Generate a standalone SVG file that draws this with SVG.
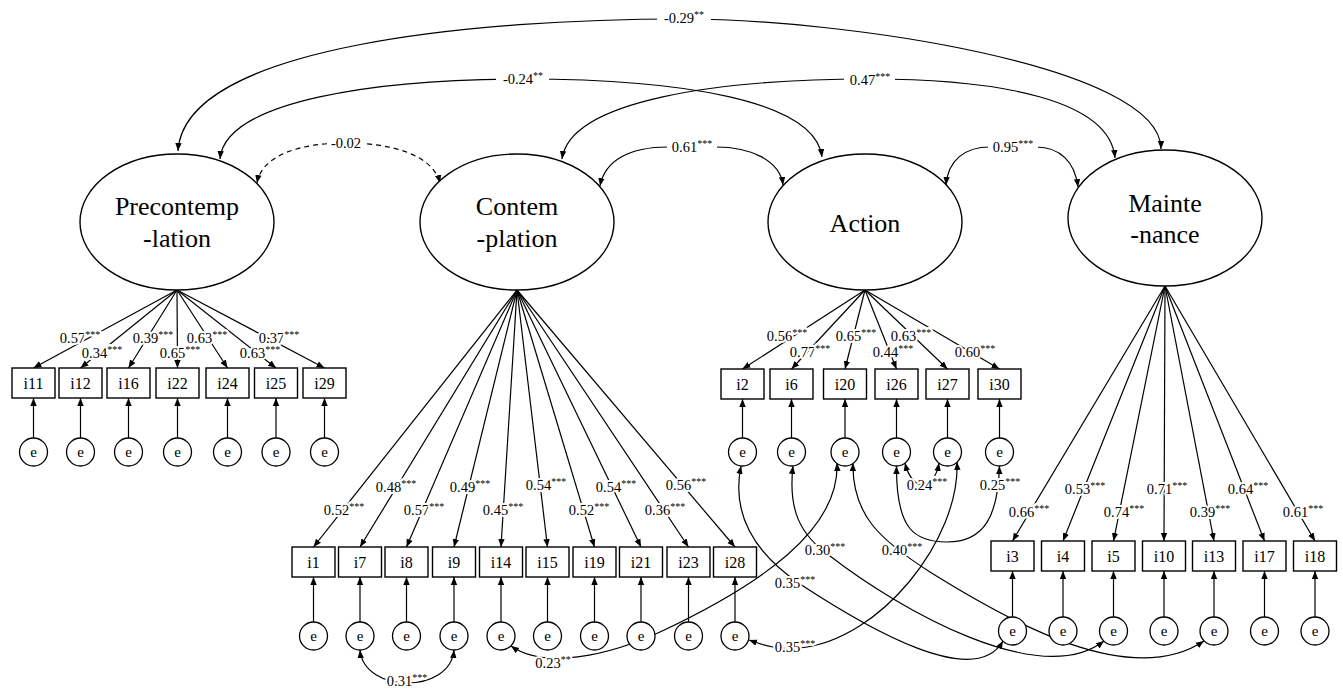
<svg xmlns="http://www.w3.org/2000/svg" width="1343" height="689" viewBox="0 0 1343 689">
<style>
.lat{fill:#fff;stroke:#000;stroke-width:1.4}
.box{fill:#fff;stroke:#000;stroke-width:1.4}
.err{fill:#fff;stroke:#000;stroke-width:1.3}
.ln{fill:none;stroke:#000;stroke-width:1.2;marker-end:url(#ah)}
.cov{fill:none;stroke:#000;stroke-width:1.2;marker-start:url(#ah);marker-end:url(#ah)}
.dash{stroke-dasharray:5 4}
.lt{font-family:"Liberation Serif","Times New Roman",serif;font-size:26px;text-anchor:middle;fill:#000}
.bt{font-family:"Liberation Serif","Times New Roman",serif;font-size:16px;text-anchor:middle;fill:#000}
.et{font-family:"Liberation Serif","Times New Roman",serif;font-size:15px;text-anchor:middle;fill:#000}
.lb{font-family:"Liberation Serif","Times New Roman",serif;font-size:14.5px;text-anchor:middle;fill:#000;stroke:#fff;stroke-width:4;stroke-linejoin:round;paint-order:stroke}
.tl{stroke:none}
.bg{fill:#fff;stroke:none}
.s{font-size:10px}
</style>
<defs>
<marker id="ah" viewBox="0 0 10 10" refX="10" refY="5" markerWidth="8" markerHeight="8" markerUnits="userSpaceOnUse" orient="auto-start-reverse">
<path d="M0,1 L10,5 L0,9 z" fill="#000" stroke="none"/>
</marker>
</defs>

<g id="connectors">
<path class="cov" d="M178,151 C184,45 480,19 683,19 C840,19 1161,65 1161,149"/>
<path class="cov" d="M220,159 C225,100 380,79 522,79 C680,79 815,100 822,157"/>
<path class="cov" d="M562,159 C570,100 720,79 870,79 C1000,79 1110,100 1115,158"/>
<path class="cov" d="M600,186 C605,160 630,147 668,147 L716,147 C750,147 780,160 783,185"/>
<path class="cov" d="M946,185 C948,160 965,147 990,147 L1036,147 C1060,147 1075,162 1078,187"/>
<path class="cov dash" d="M257,183 C262,155 300,143 346,143 C392,143 433,155 440,183"/>
<path class="ln" d="M177,290 L33.5,368"/>
<path class="ln" d="M177,290 L80.5,368"/>
<path class="ln" d="M177,290 L128.5,368"/>
<path class="ln" d="M177,290 L177.5,368"/>
<path class="ln" d="M177,290 L227.5,368"/>
<path class="ln" d="M177,290 L276,368"/>
<path class="ln" d="M177,290 L324.5,368"/>
<path class="ln" d="M517,290 L313.5,547"/>
<path class="ln" d="M517,290 L360,547"/>
<path class="ln" d="M517,290 L406.5,547"/>
<path class="ln" d="M517,290 L454,547"/>
<path class="ln" d="M517,290 L501,547"/>
<path class="ln" d="M517,290 L547.5,547"/>
<path class="ln" d="M517,290 L594.5,547"/>
<path class="ln" d="M517,290 L641,547"/>
<path class="ln" d="M517,290 L688.5,547"/>
<path class="ln" d="M517,290 L735,547"/>
<path class="ln" d="M865,290 L742.5,369"/>
<path class="ln" d="M865,290 L791.5,369"/>
<path class="ln" d="M865,290 L845,369"/>
<path class="ln" d="M865,290 L896.5,369"/>
<path class="ln" d="M865,290 L947.5,369"/>
<path class="ln" d="M865,290 L999.5,369"/>
<path class="ln" d="M1165,286 L1012.5,541"/>
<path class="ln" d="M1165,286 L1063,541"/>
<path class="ln" d="M1165,286 L1113.5,541"/>
<path class="ln" d="M1165,286 L1164,541"/>
<path class="ln" d="M1165,286 L1214,541"/>
<path class="ln" d="M1165,286 L1264.5,541"/>
<path class="ln" d="M1165,286 L1315,541"/>
<path class="ln" d="M33.5,438 L33.5,398"/>
<path class="ln" d="M80.5,438 L80.5,398"/>
<path class="ln" d="M128.5,438 L128.5,398"/>
<path class="ln" d="M177.5,438 L177.5,398"/>
<path class="ln" d="M227.5,438 L227.5,398"/>
<path class="ln" d="M276,438 L276,398"/>
<path class="ln" d="M324.5,438 L324.5,398"/>
<path class="ln" d="M742.5,438 L742.5,399"/>
<path class="ln" d="M791.5,438 L791.5,399"/>
<path class="ln" d="M845,438 L845,399"/>
<path class="ln" d="M896.5,438 L896.5,399"/>
<path class="ln" d="M947.5,438 L947.5,399"/>
<path class="ln" d="M999.5,438 L999.5,399"/>
<path class="ln" d="M313.5,622 L313.5,577"/>
<path class="ln" d="M360,622 L360,577"/>
<path class="ln" d="M406.5,622 L406.5,577"/>
<path class="ln" d="M454,622 L454,577"/>
<path class="ln" d="M501,622 L501,577"/>
<path class="ln" d="M547.5,622 L547.5,577"/>
<path class="ln" d="M594.5,622 L594.5,577"/>
<path class="ln" d="M641,622 L641,577"/>
<path class="ln" d="M688.5,622 L688.5,577"/>
<path class="ln" d="M735,622 L735,577"/>
<path class="ln" d="M1012.5,617 L1012.5,571"/>
<path class="ln" d="M1063,617 L1063,571"/>
<path class="ln" d="M1113.5,617 L1113.5,571"/>
<path class="ln" d="M1164,617 L1164,571"/>
<path class="ln" d="M1214,617 L1214,571"/>
<path class="ln" d="M1264.5,617 L1264.5,571"/>
<path class="ln" d="M1315,617 L1315,571"/>
<path class="cov" d="M360,650 C362,672 385,683 407,683 C430,683 452,672 454,650"/>
<path class="cov" d="M511,646 C545,670 610,655 660,632 C760,585 840,530 837,463"/>
<path class="cov" d="M749,640 C765,646 780,650 800,648 C880,640 960,540 957,462"/>
<path class="cov" d="M741,466 C732,510 750,550 800,584 C870,630 975,690 1003,641"/>
<path class="cov" d="M793,466 C788,510 800,535 830,556 C900,610 1040,690 1104,641"/>
<path class="cov" d="M853,463 C852,515 880,540 930,572 C1010,622 1130,690 1204,641"/>
<path class="cov" d="M905,463 C912,492 934,492 939,463"/>
<path class="cov" d="M896.5,466 C896,530 915,542 947,542 C985,542 998,515 999.5,466"/>
</g>

<g id="Precontemplation"><ellipse class="lat" cx="177" cy="222" rx="97" ry="68"/><text class="lt" x="177" y="215">Precontemp</text><text class="lt" x="177" y="247">-lation</text></g>
<g id="Contemplation"><ellipse class="lat" cx="517" cy="222" rx="97" ry="68"/><text class="lt" x="517" y="215">Contem</text><text class="lt" x="517" y="247">-plation</text></g>
<g id="Action"><ellipse class="lat" cx="865" cy="222" rx="97" ry="68"/><text class="lt" x="865" y="232">Action</text></g>
<g id="Maintenance"><ellipse class="lat" cx="1165" cy="218" rx="97" ry="68"/><text class="lt" x="1165" y="212">Mainte</text><text class="lt" x="1165" y="243">-nance</text></g>

<g id="i11"><rect class="box" x="12" y="368" width="43" height="30"/><text class="bt" x="33.5" y="389">i11</text></g>
<g id="i12"><rect class="box" x="59" y="368" width="43" height="30"/><text class="bt" x="80.5" y="389">i12</text></g>
<g id="i16"><rect class="box" x="107" y="368" width="43" height="30"/><text class="bt" x="128.5" y="389">i16</text></g>
<g id="i22"><rect class="box" x="156" y="368" width="43" height="30"/><text class="bt" x="177.5" y="389">i22</text></g>
<g id="i24"><rect class="box" x="206" y="368" width="43" height="30"/><text class="bt" x="227.5" y="389">i24</text></g>
<g id="i25"><rect class="box" x="254.5" y="368" width="43" height="30"/><text class="bt" x="276" y="389">i25</text></g>
<g id="i29"><rect class="box" x="303" y="368" width="43" height="30"/><text class="bt" x="324.5" y="389">i29</text></g>

<g id="i2"><rect class="box" x="721" y="369" width="43" height="30"/><text class="bt" x="742.5" y="390">i2</text></g>
<g id="i6"><rect class="box" x="770" y="369" width="43" height="30"/><text class="bt" x="791.5" y="390">i6</text></g>
<g id="i20"><rect class="box" x="823.5" y="369" width="43" height="30"/><text class="bt" x="845" y="390">i20</text></g>
<g id="i26"><rect class="box" x="875" y="369" width="43" height="30"/><text class="bt" x="896.5" y="390">i26</text></g>
<g id="i27"><rect class="box" x="926" y="369" width="43" height="30"/><text class="bt" x="947.5" y="390">i27</text></g>
<g id="i30"><rect class="box" x="978" y="369" width="43" height="30"/><text class="bt" x="999.5" y="390">i30</text></g>

<g id="i1"><rect class="box" x="292" y="547" width="43" height="30"/><text class="bt" x="313.5" y="568">i1</text></g>
<g id="i7"><rect class="box" x="338.5" y="547" width="43" height="30"/><text class="bt" x="360" y="568">i7</text></g>
<g id="i8"><rect class="box" x="385" y="547" width="43" height="30"/><text class="bt" x="406.5" y="568">i8</text></g>
<g id="i9"><rect class="box" x="432.5" y="547" width="43" height="30"/><text class="bt" x="454" y="568">i9</text></g>
<g id="i14"><rect class="box" x="479.5" y="547" width="43" height="30"/><text class="bt" x="501" y="568">i14</text></g>
<g id="i15"><rect class="box" x="526" y="547" width="43" height="30"/><text class="bt" x="547.5" y="568">i15</text></g>
<g id="i19"><rect class="box" x="573" y="547" width="43" height="30"/><text class="bt" x="594.5" y="568">i19</text></g>
<g id="i21"><rect class="box" x="619.5" y="547" width="43" height="30"/><text class="bt" x="641" y="568">i21</text></g>
<g id="i23"><rect class="box" x="667" y="547" width="43" height="30"/><text class="bt" x="688.5" y="568">i23</text></g>
<g id="i28"><rect class="box" x="713.5" y="547" width="43" height="30"/><text class="bt" x="735" y="568">i28</text></g>

<g id="i3"><rect class="box" x="991" y="541" width="43" height="30"/><text class="bt" x="1012.5" y="562">i3</text></g>
<g id="i4"><rect class="box" x="1041.5" y="541" width="43" height="30"/><text class="bt" x="1063" y="562">i4</text></g>
<g id="i5"><rect class="box" x="1092" y="541" width="43" height="30"/><text class="bt" x="1113.5" y="562">i5</text></g>
<g id="i10"><rect class="box" x="1142.5" y="541" width="43" height="30"/><text class="bt" x="1164" y="562">i10</text></g>
<g id="i13"><rect class="box" x="1192.5" y="541" width="43" height="30"/><text class="bt" x="1214" y="562">i13</text></g>
<g id="i17"><rect class="box" x="1243" y="541" width="43" height="30"/><text class="bt" x="1264.5" y="562">i17</text></g>
<g id="i18"><rect class="box" x="1293.5" y="541" width="43" height="30"/><text class="bt" x="1315" y="562">i18</text></g>

<g id="e-i11"><circle class="err" cx="33.5" cy="452" r="14"/><text class="et" x="33.5" y="457">e</text></g>
<g id="e-i12"><circle class="err" cx="80.5" cy="452" r="14"/><text class="et" x="80.5" y="457">e</text></g>
<g id="e-i16"><circle class="err" cx="128.5" cy="452" r="14"/><text class="et" x="128.5" y="457">e</text></g>
<g id="e-i22"><circle class="err" cx="177.5" cy="452" r="14"/><text class="et" x="177.5" y="457">e</text></g>
<g id="e-i24"><circle class="err" cx="227.5" cy="452" r="14"/><text class="et" x="227.5" y="457">e</text></g>
<g id="e-i25"><circle class="err" cx="276" cy="452" r="14"/><text class="et" x="276" y="457">e</text></g>
<g id="e-i29"><circle class="err" cx="324.5" cy="452" r="14"/><text class="et" x="324.5" y="457">e</text></g>

<g id="e-i2"><circle class="err" cx="742.5" cy="452" r="14"/><text class="et" x="742.5" y="457">e</text></g>
<g id="e-i6"><circle class="err" cx="791.5" cy="452" r="14"/><text class="et" x="791.5" y="457">e</text></g>
<g id="e-i20"><circle class="err" cx="845" cy="452" r="14"/><text class="et" x="845" y="457">e</text></g>
<g id="e-i26"><circle class="err" cx="896.5" cy="452" r="14"/><text class="et" x="896.5" y="457">e</text></g>
<g id="e-i27"><circle class="err" cx="947.5" cy="452" r="14"/><text class="et" x="947.5" y="457">e</text></g>
<g id="e-i30"><circle class="err" cx="999.5" cy="452" r="14"/><text class="et" x="999.5" y="457">e</text></g>

<g id="e-i1"><circle class="err" cx="313.5" cy="636" r="14"/><text class="et" x="313.5" y="641">e</text></g>
<g id="e-i7"><circle class="err" cx="360" cy="636" r="14"/><text class="et" x="360" y="641">e</text></g>
<g id="e-i8"><circle class="err" cx="406.5" cy="636" r="14"/><text class="et" x="406.5" y="641">e</text></g>
<g id="e-i9"><circle class="err" cx="454" cy="636" r="14"/><text class="et" x="454" y="641">e</text></g>
<g id="e-i14"><circle class="err" cx="501" cy="636" r="14"/><text class="et" x="501" y="641">e</text></g>
<g id="e-i15"><circle class="err" cx="547.5" cy="636" r="14"/><text class="et" x="547.5" y="641">e</text></g>
<g id="e-i19"><circle class="err" cx="594.5" cy="636" r="14"/><text class="et" x="594.5" y="641">e</text></g>
<g id="e-i21"><circle class="err" cx="641" cy="636" r="14"/><text class="et" x="641" y="641">e</text></g>
<g id="e-i23"><circle class="err" cx="688.5" cy="636" r="14"/><text class="et" x="688.5" y="641">e</text></g>
<g id="e-i28"><circle class="err" cx="735" cy="636" r="14"/><text class="et" x="735" y="641">e</text></g>

<g id="e-i3"><circle class="err" cx="1012.5" cy="631" r="14"/><text class="et" x="1012.5" y="636">e</text></g>
<g id="e-i4"><circle class="err" cx="1063" cy="631" r="14"/><text class="et" x="1063" y="636">e</text></g>
<g id="e-i5"><circle class="err" cx="1113.5" cy="631" r="14"/><text class="et" x="1113.5" y="636">e</text></g>
<g id="e-i10"><circle class="err" cx="1164" cy="631" r="14"/><text class="et" x="1164" y="636">e</text></g>
<g id="e-i13"><circle class="err" cx="1214" cy="631" r="14"/><text class="et" x="1214" y="636">e</text></g>
<g id="e-i17"><circle class="err" cx="1264.5" cy="631" r="14"/><text class="et" x="1264.5" y="636">e</text></g>
<g id="e-i18"><circle class="err" cx="1315" cy="631" r="14"/><text class="et" x="1315" y="636">e</text></g>

<g id="labels">
<rect class="bg" x="657" y="11" width="54" height="16"/>
<rect class="bg" x="496" y="72" width="53" height="16"/>
<rect class="bg" x="844" y="72" width="51" height="16"/>
<rect class="bg" x="667" y="140" width="50" height="15"/>
<rect class="bg" x="988" y="140" width="50" height="15"/>
<rect class="bg" x="328" y="136" width="36" height="15"/>
<text class="lb tl" x="684" y="23">-0.29<tspan class="s" dy="-5">**</tspan></text>
<text class="lb tl" x="523" y="84">-0.24<tspan class="s" dy="-5">**</tspan></text>
<text class="lb tl" x="870" y="85">0.47<tspan class="s" dy="-5">***</tspan></text>
<text class="lb tl" x="692" y="152">0.61<tspan class="s" dy="-5">***</tspan></text>
<text class="lb tl" x="1013" y="152">0.95<tspan class="s" dy="-5">***</tspan></text>
<text class="lb tl" x="346" y="148">-0.02</text>

<text class="lb" x="80" y="343">0.57<tspan class="s" dy="-5">***</tspan></text>
<text class="lb" x="102" y="358">0.34<tspan class="s" dy="-5">***</tspan></text>
<text class="lb" x="153" y="343">0.39<tspan class="s" dy="-5">***</tspan></text>
<text class="lb" x="180" y="358">0.65<tspan class="s" dy="-5">***</tspan></text>
<text class="lb" x="207" y="343">0.63<tspan class="s" dy="-5">***</tspan></text>
<text class="lb" x="260" y="358">0.63<tspan class="s" dy="-5">***</tspan></text>
<text class="lb" x="279" y="343">0.37<tspan class="s" dy="-5">***</tspan></text>

<text class="lb" x="787" y="341">0.56<tspan class="s" dy="-5">***</tspan></text>
<text class="lb" x="810" y="357">0.77<tspan class="s" dy="-5">***</tspan></text>
<text class="lb" x="856" y="341">0.65<tspan class="s" dy="-5">***</tspan></text>
<text class="lb" x="893" y="357">0.44<tspan class="s" dy="-5">***</tspan></text>
<text class="lb" x="911" y="341">0.63<tspan class="s" dy="-5">***</tspan></text>
<text class="lb" x="975" y="357">0.60<tspan class="s" dy="-5">***</tspan></text>

<text class="lb" x="344" y="515">0.52<tspan class="s" dy="-5">***</tspan></text>
<text class="lb" x="396" y="492">0.48<tspan class="s" dy="-5">***</tspan></text>
<text class="lb" x="424" y="515">0.57<tspan class="s" dy="-5">***</tspan></text>
<text class="lb" x="470" y="492">0.49<tspan class="s" dy="-5">***</tspan></text>
<text class="lb" x="503" y="515">0.45<tspan class="s" dy="-5">***</tspan></text>
<text class="lb" x="546" y="490">0.54<tspan class="s" dy="-5">***</tspan></text>
<text class="lb" x="589" y="515">0.52<tspan class="s" dy="-5">***</tspan></text>
<text class="lb" x="616" y="492">0.54<tspan class="s" dy="-5">***</tspan></text>
<text class="lb" x="665" y="515">0.36<tspan class="s" dy="-5">***</tspan></text>
<text class="lb" x="686" y="490">0.56<tspan class="s" dy="-5">***</tspan></text>

<text class="lb" x="1029" y="517">0.66<tspan class="s" dy="-5">***</tspan></text>
<text class="lb" x="1085" y="494">0.53<tspan class="s" dy="-5">***</tspan></text>
<text class="lb" x="1124" y="517">0.74<tspan class="s" dy="-5">***</tspan></text>
<text class="lb" x="1167" y="494">0.71<tspan class="s" dy="-5">***</tspan></text>
<text class="lb" x="1210" y="517">0.39<tspan class="s" dy="-5">***</tspan></text>
<text class="lb" x="1248" y="494">0.64<tspan class="s" dy="-5">***</tspan></text>
<text class="lb" x="1303" y="517">0.61<tspan class="s" dy="-5">***</tspan></text>

<text class="lb" x="407" y="686">0.31<tspan class="s" dy="-5">***</tspan></text>
<text class="lb" x="553" y="668">0.23<tspan class="s" dy="-5">**</tspan></text>
<text class="lb" x="795" y="588">0.35<tspan class="s" dy="-5">***</tspan></text>
<text class="lb" x="795" y="652">0.35<tspan class="s" dy="-5">***</tspan></text>
<text class="lb" x="825" y="555">0.30<tspan class="s" dy="-5">***</tspan></text>
<text class="lb" x="902" y="555">0.40<tspan class="s" dy="-5">***</tspan></text>
<text class="lb" x="927" y="490">0.24<tspan class="s" dy="-5">***</tspan></text>
<text class="lb" x="1000" y="490">0.25<tspan class="s" dy="-5">***</tspan></text>
</g>
</svg>
